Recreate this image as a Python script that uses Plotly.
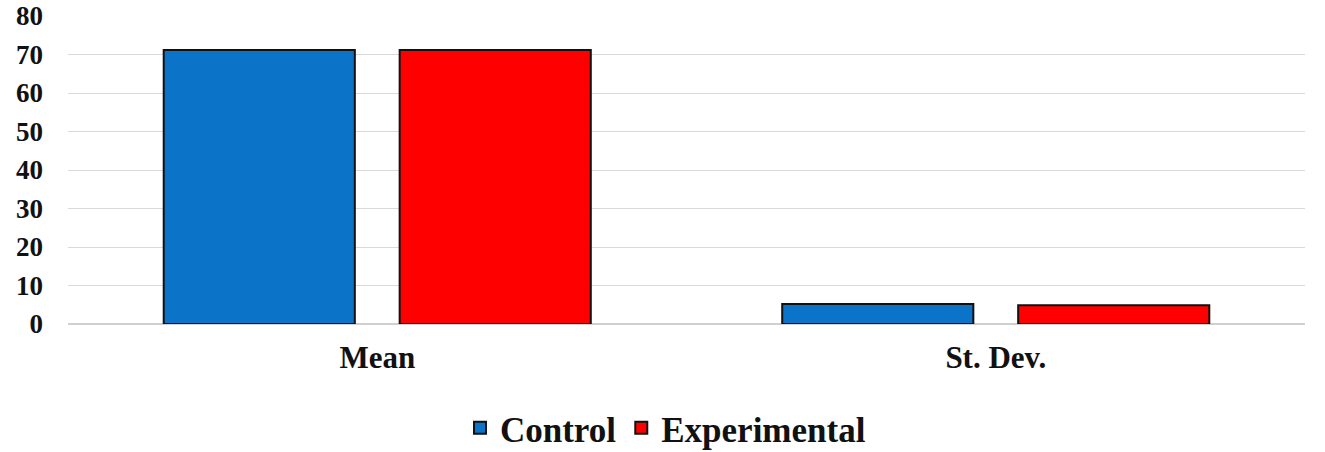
import plotly.graph_objects as go

categories = ["Mean", "St. Dev."]
control = [71.2, 5.2]
experimental = [71.2, 4.9]
y_ticks = [0, 10, 20, 30, 40, 50, 60, 70, 80]

font_family = "Liberation Serif, Times New Roman, serif"

fig = go.Figure()
fig.add_trace(go.Bar(name="Control", x=categories, y=control,
                     marker=dict(color="#0B73C8", line=dict(color="#111111", width=2))))
fig.add_trace(go.Bar(name="Experimental", x=categories, y=experimental,
                     marker=dict(color="#FF0000", line=dict(color="#111111", width=2))))

fig.update_layout(
    width=1325, height=452,
    margin=dict(l=68, r=20, t=16, b=128, autoexpand=False),
    paper_bgcolor="white", plot_bgcolor="white",
    barmode="group", bargap=0.237, bargroupgap=0.19,
    font=dict(family=font_family, color="#111111"),
    legend=dict(orientation="h", x=0.483, xanchor="center", y=-0.338, yanchor="middle",
                font=dict(size=35, family=font_family, weight="bold"),
                itemwidth=30, traceorder="normal"),
    xaxis=dict(showline=False, tickfont=dict(size=31, family=font_family, weight="bold"),
               ticks="", ticklabelstandoff=12, automargin=False),
    yaxis=dict(range=[0, 80], tickvals=y_ticks, showgrid=True, gridcolor="#D9D9D9", gridwidth=1,
               zeroline=True, zerolinecolor="#D0D0D0", zerolinewidth=2,
               tickfont=dict(size=27, family=font_family, weight="bold"),
               ticklabelstandoff=24, automargin=False),
)

fig.write_html("out.html")
